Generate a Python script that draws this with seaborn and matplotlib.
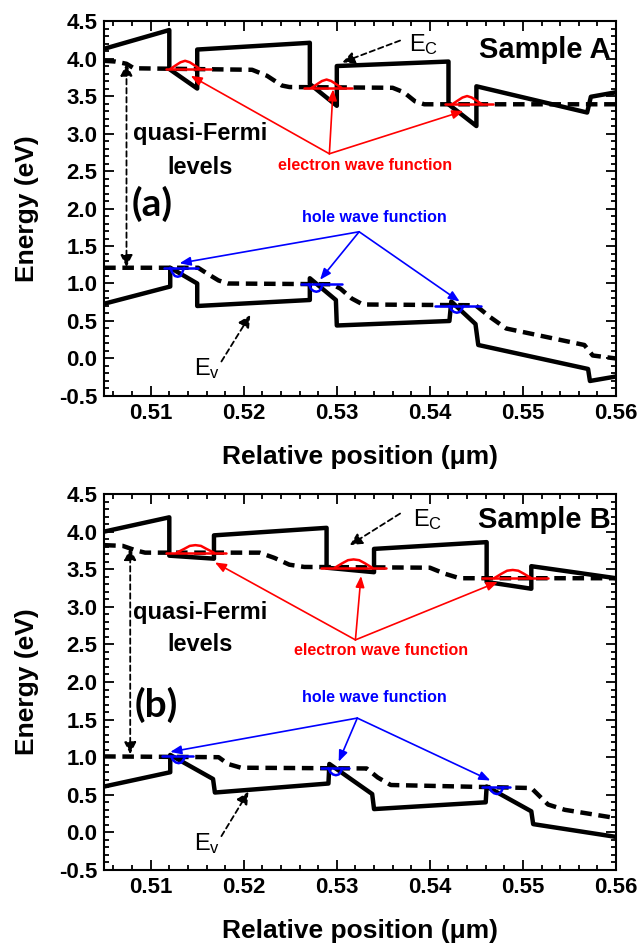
import matplotlib
matplotlib.use("Agg")
import matplotlib.pyplot as plt
import pandas as pd
import seaborn as sns
from matplotlib.ticker import MultipleLocator, FormatStrFormatter

# ---------------- Panel (a) : Sample A ----------------
ec_a_x = [0.5050, 0.5120, 0.5120, 0.5150, 0.5150, 0.5271, 0.5271, 0.5300, 0.5300, 0.5420, 0.5420, 0.5450, 0.5450, 0.5569, 0.5573, 0.5600]
ec_a_y = [4.13, 4.38, 3.86, 3.60, 4.12, 4.21, 3.66, 3.37, 3.90, 3.96, 3.39, 3.10, 3.63, 3.28, 3.49, 3.55]
fn_a_x = [0.5050, 0.5062, 0.5074, 0.5082, 0.5209, 0.5225, 0.5241, 0.5249, 0.5360, 0.5372, 0.5384, 0.5394, 0.5600]
fn_a_y = [3.97, 3.96, 3.93, 3.87, 3.85, 3.77, 3.64, 3.62, 3.61, 3.55, 3.43, 3.39, 3.39]
fp_a_x = [0.5050, 0.5151, 0.5161, 0.5173, 0.5183, 0.5295, 0.5304, 0.5316, 0.5328, 0.5449, 0.5465, 0.5482, 0.5566, 0.5575, 0.5600]
fp_a_y = [1.21, 1.21, 1.13, 1.04, 1.00, 0.99, 0.93, 0.80, 0.72, 0.71, 0.55, 0.40, 0.18, 0.04, 0.00]
ev_a_x = [0.5050, 0.5121, 0.5121, 0.5150, 0.5150, 0.5271, 0.5271, 0.5299, 0.5300, 0.5421, 0.5423, 0.5449, 0.5452, 0.5570, 0.5572, 0.5600]
ev_a_y = [0.73, 0.96, 1.21, 1.00, 0.70, 0.78, 1.07, 0.78, 0.44, 0.50, 0.76, 0.46, 0.18, -0.14, -0.30, -0.24]

# electron wave functions (level line + hump)
wfe_a_left = [0.5116, 0.5265, 0.5416]
wfe_a_right = [0.5165, 0.5316, 0.5468]
wfe_a_level = [3.86, 3.61, 3.39]
wfe_a_hx = [[0.5121, 0.5127, 0.5132, 0.5137, 0.5142, 0.5147, 0.5153],
            [0.5273, 0.5279, 0.5284, 0.5289, 0.5294, 0.5299, 0.5305],
            [0.5424, 0.5430, 0.5435, 0.5440, 0.5445, 0.5450, 0.5456]]
wfe_a_hy = [[3.86, 3.91, 3.95, 3.97, 3.95, 3.91, 3.86],
            [3.61, 3.66, 3.70, 3.72, 3.70, 3.66, 3.61],
            [3.39, 3.44, 3.48, 3.50, 3.48, 3.44, 3.39]]
# hole wave functions (level line + dip)
wfh_a_left = [0.5114, 0.5261, 0.5406]
wfh_a_right = [0.5151, 0.5306, 0.5455]
wfh_a_level = [1.21, 0.99, 0.70]
wfh_a_hx = [[0.5121, 0.5123, 0.5126, 0.5129, 0.5132, 0.5134, 0.5136],
            [0.5270, 0.5272, 0.5275, 0.5278, 0.5281, 0.5283, 0.5285],
            [0.5421, 0.5423, 0.5426, 0.5429, 0.5432, 0.5434, 0.5436]]
wfh_a_hy = [[1.21, 1.15, 1.10, 1.09, 1.10, 1.15, 1.21],
            [0.99, 0.93, 0.90, 0.89, 0.90, 0.93, 0.99],
            [0.70, 0.65, 0.62, 0.61, 0.62, 0.65, 0.70]]

# ---------------- Panel (b) : Sample B ----------------
ec_b_x = [0.5050, 0.5120, 0.5120, 0.5168, 0.5168, 0.5289, 0.5289, 0.5340, 0.5340, 0.5461, 0.5461, 0.5509, 0.5509, 0.5600]
ec_b_y = [4.00, 4.19, 3.68, 3.64, 3.95, 4.05, 3.52, 3.46, 3.77, 3.86, 3.33, 3.24, 3.54, 3.38]
fn_b_x = [0.5050, 0.5070, 0.5084, 0.5094, 0.5217, 0.5233, 0.5249, 0.5265, 0.5400, 0.5416, 0.5432, 0.5600]
fn_b_y = [3.82, 3.81, 3.75, 3.72, 3.72, 3.65, 3.56, 3.53, 3.52, 3.44, 3.38, 3.38]
fp_b_x = [0.5050, 0.5173, 0.5183, 0.5197, 0.5332, 0.5344, 0.5358, 0.5509, 0.5518, 0.5527, 0.5545, 0.5600]
fp_b_y = [1.01, 1.00, 0.91, 0.86, 0.85, 0.73, 0.63, 0.59, 0.48, 0.37, 0.30, 0.19]
ev_b_x = [0.5050, 0.5121, 0.5121, 0.5167, 0.5169, 0.5291, 0.5292, 0.5338, 0.5340, 0.5460, 0.5461, 0.5509, 0.5511, 0.5600]
ev_b_y = [0.61, 0.80, 1.03, 0.71, 0.53, 0.65, 0.91, 0.51, 0.31, 0.40, 0.61, 0.28, 0.11, -0.06]

wfe_b_left = [0.5116, 0.5283, 0.5456]
wfe_b_right = [0.5181, 0.5353, 0.5527]
wfe_b_level = [3.72, 3.52, 3.38]
wfe_b_hx = [[0.5128, 0.5136, 0.5142, 0.5148, 0.5154, 0.5160, 0.5168],
            [0.5298, 0.5306, 0.5312, 0.5318, 0.5324, 0.5330, 0.5338],
            [0.5469, 0.5477, 0.5483, 0.5489, 0.5495, 0.5501, 0.5509]]
wfe_b_hy = [[3.72, 3.77, 3.81, 3.82, 3.81, 3.77, 3.72],
            [3.52, 3.58, 3.62, 3.63, 3.62, 3.58, 3.52],
            [3.38, 3.44, 3.48, 3.49, 3.48, 3.44, 3.38]]
wfh_b_left = [0.5112, 0.5283, 0.5456]
wfh_b_right = [0.5146, 0.5313, 0.5486]
wfh_b_level = [1.01, 0.85, 0.60]
wfh_b_hx = [[0.5122, 0.5124, 0.5127, 0.5130, 0.5133, 0.5135, 0.5137],
            [0.5291, 0.5293, 0.5296, 0.5299, 0.5302, 0.5304, 0.5306],
            [0.5464, 0.5466, 0.5469, 0.5472, 0.5475, 0.5477, 0.5479]]
wfh_b_hy = [[1.01, 0.96, 0.93, 0.92, 0.93, 0.96, 1.01],
            [0.85, 0.80, 0.77, 0.76, 0.77, 0.80, 0.85],
            [0.60, 0.55, 0.52, 0.51, 0.52, 0.55, 0.60]]

x_ticks = [0.51, 0.52, 0.53, 0.54, 0.55, 0.56]
y_ticks = [-0.5, 0.0, 0.5, 1.0, 1.5, 2.0, 2.5, 3.0, 3.5, 4.0, 4.5]

panels = [
    dict(ec=(ec_a_x, ec_a_y), fn=(fn_a_x, fn_a_y), fp=(fp_a_x, fp_a_y), ev=(ev_a_x, ev_a_y),
         wfe=(wfe_a_left, wfe_a_right, wfe_a_level, wfe_a_hx, wfe_a_hy),
         wfh=(wfh_a_left, wfh_a_right, wfh_a_level, wfh_a_hx, wfh_a_hy),
         red_o=(0.5292, 2.73), red_t=[(0.5143, 3.77), (0.5296, 3.59), (0.5436, 3.30)], red_lab=(0.5330, 2.58),
         blue_o=(0.5324, 1.69), blue_t=[(0.5131, 1.27), (0.5282, 1.05), (0.5432, 0.76)], blue_lab=(0.5340, 1.88),
         ec_lab=(0.5378, 4.18), ec_arr=((0.5368, 4.24), (0.5306, 3.95)),
         ev_lab=(0.5161, -0.14), ev_arr=((0.5176, -0.04), (0.5207, 0.58)),
         sample="Sample A", sample_pos=(0.5594, 4.12),
         qf_x=0.5074, qf_top=3.93, qf_bot=1.22, qf_lab=(0.5153, 3.0), lv_lab=(0.5153, 2.55),
         tag="(a)", tag_pos=(0.5102, 2.06)),
    dict(ec=(ec_b_x, ec_b_y), fn=(fn_b_x, fn_b_y), fp=(fp_b_x, fp_b_y), ev=(ev_b_x, ev_b_y),
         wfe=(wfe_b_left, wfe_b_right, wfe_b_level, wfe_b_hx, wfe_b_hy),
         wfh=(wfh_b_left, wfh_b_right, wfh_b_level, wfh_b_hx, wfh_b_hy),
         red_o=(0.5320, 2.56), red_t=[(0.5169, 3.59), (0.5326, 3.41), (0.5473, 3.33)], red_lab=(0.5348, 2.42),
         blue_o=(0.5322, 1.52), blue_t=[(0.5121, 1.07), (0.5302, 0.94), (0.5465, 0.69)], blue_lab=(0.5340, 1.79),
         ec_lab=(0.5382, 4.16), ec_arr=((0.5368, 4.24), (0.5314, 3.82)),
         ev_lab=(0.5161, -0.15), ev_arr=((0.5176, -0.05), (0.5205, 0.54)),
         sample="Sample B", sample_pos=(0.5594, 4.16),
         qf_x=0.5078, qf_top=3.78, qf_bot=1.04, qf_lab=(0.5153, 2.92), lv_lab=(0.5153, 2.50),
         tag="(b)", tag_pos=(0.5106, 1.70)),
]

sns.set_theme(style="ticks")
plt.rcParams["font.family"] = ["Liberation Sans", "DejaVu Sans"]
plt.rcParams["mathtext.default"] = "regular"
for key in ["text.color", "axes.labelcolor", "xtick.color", "ytick.color", "axes.edgecolor"]:
    plt.rcParams[key] = "black"

fig = plt.figure(figsize=(6.39, 9.48), dpi=100)
axes = [fig.add_axes([0.163, 0.5823, 0.801, 0.3955]),
        fig.add_axes([0.163, 0.0823, 0.801, 0.3966])]

RED = "#ff0000"
BLUE = "#0000ff"
LW = 3.2


def line(ax, xs, ys, **kw):
    df = pd.DataFrame({"x": xs, "y": ys})
    sns.lineplot(data=df, x="x", y="y", sort=False, estimator=None, ax=ax, legend=False, **kw)


for ax, p in zip(axes, panels):
    line(ax, *p["ec"], color="black", lw=LW)
    line(ax, *p["ev"], color="black", lw=LW)
    line(ax, *p["fn"], color="black", lw=LW)
    line(ax, *p["fp"], color="black", lw=LW)
    for ln in ax.lines[2:4]:
        ln.set_dashes((2.6, 1.5))
    for (lefts, rights, levels, hxs, hys), col in [(p["wfe"], RED), (p["wfh"], BLUE)]:
        for lft, rgt, lvl, hx, hy in zip(lefts, rights, levels, hxs, hys):
            line(ax, [lft, rgt], [lvl, lvl], color=col, lw=1.8)
            line(ax, hx, hy, color=col, lw=1.8)
    for tgt in p["red_t"]:
        ax.annotate("", xy=tgt, xytext=p["red_o"],
                    arrowprops=dict(arrowstyle="-|>,head_length=0.55,head_width=0.22", color=RED, lw=1.2,
                                    shrinkA=0, shrinkB=0))
    for tgt in p["blue_t"]:
        ax.annotate("", xy=tgt, xytext=p["blue_o"],
                    arrowprops=dict(arrowstyle="-|>,head_length=0.55,head_width=0.22", color=BLUE, lw=1.2,
                                    shrinkA=0, shrinkB=0))
    ax.text(*p["red_lab"], "electron wave function", color=RED, fontsize=11.5, fontweight="bold",
            ha="center", va="center")
    ax.text(*p["blue_lab"], "hole wave function", color=BLUE, fontsize=11.5, fontweight="bold",
            ha="center", va="center")
    ax.annotate("", xy=p["ec_arr"][1], xytext=p["ec_arr"][0],
                arrowprops=dict(arrowstyle="-|>,head_length=0.6,head_width=0.3", color="black", lw=1.3,
                                ls=(0, (3, 2)), shrinkA=0, shrinkB=0))
    ax.text(*p["ec_lab"], r"E$_\mathregular{C}$", fontsize=17, ha="left", va="center")
    ax.annotate("", xy=p["ev_arr"][1], xytext=p["ev_arr"][0],
                arrowprops=dict(arrowstyle="-|>,head_length=0.6,head_width=0.3", color="black", lw=1.3,
                                ls=(0, (3, 2)), shrinkA=0, shrinkB=0))
    ax.text(*p["ev_lab"], r"E$_\mathregular{v}$", fontsize=17, ha="center", va="center")
    ax.annotate("", xy=(p["qf_x"], p["qf_top"]), xytext=(p["qf_x"], p["qf_bot"]),
                arrowprops=dict(arrowstyle="<|-|>,head_length=0.6,head_width=0.3", color="black", lw=1.3,
                                ls=(0, (3, 2)), shrinkA=0, shrinkB=0))
    ax.text(*p["qf_lab"], "quasi-Fermi", fontsize=17, fontweight="bold", ha="center", va="center")
    ax.text(*p["lv_lab"], "levels", fontsize=17, fontweight="bold", ha="center", va="center")
    ax.text(*p["tag_pos"], p["tag"], fontsize=28, fontweight="bold", ha="center", va="center",
            family=["Lato", "DejaVu Sans"])
    ax.text(*p["sample_pos"], p["sample"], fontsize=21, fontweight="bold", ha="right", va="center")

    ax.set_xlim(0.505, 0.560)
    ax.set_ylim(-0.5, 4.5)
    ax.set_xticks(x_ticks)
    ax.set_yticks(y_ticks)
    ax.xaxis.set_major_formatter(FormatStrFormatter("%.2f"))
    ax.yaxis.set_major_formatter(FormatStrFormatter("%.1f"))
    ax.xaxis.set_minor_locator(MultipleLocator(0.002))
    ax.yaxis.set_minor_locator(MultipleLocator(0.1))
    ax.tick_params(which="both", direction="in", top=True, right=True, width=1.3, color="black")
    ax.tick_params(which="major", length=7, labelsize=16, pad=5)
    ax.tick_params(which="minor", length=3.5)
    for lab in ax.get_xticklabels() + ax.get_yticklabels():
        lab.set_fontweight("bold")
    for s in ax.spines.values():
        s.set_linewidth(1.5)
        s.set_color("black")
    ax.set_xlabel("Relative position (μm)", fontsize=19, fontweight="bold")
    ax.set_ylabel("Energy (eV)", fontsize=19, fontweight="bold")
    ax.xaxis.set_label_coords(0.5, -0.13)
    ax.yaxis.set_label_coords(-0.128, 0.5)

fig.savefig("out.png", dpi=100)
